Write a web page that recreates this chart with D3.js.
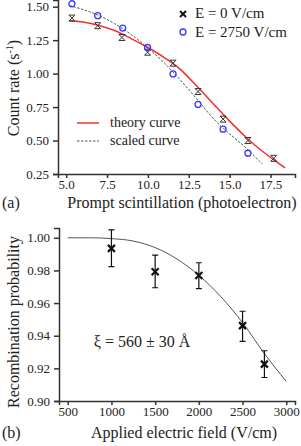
<!DOCTYPE html>
<html lang="en">
<head>
    <meta charset="UTF-8">
    <title>Count rate and recombination</title>
    <script src="https://cdn.jsdelivr.net/npm/d3@7"></script>
    <style>
        body{ margin:0; background:#fff; }
        svg{ display:block; }
        svg text{ font-family:"Liberation Serif","Times New Roman",serif; fill:#222; }
        .axis path, .axis line{ stroke:#333; stroke-width:1.5; }
        .axis text{ font-size:13px; }
    </style>
</head>
<body>
<svg width="301" height="446"></svg>
<script>
    // panel (a) data
    var xZero = [5.35, 6.93, 8.41, 9.98, 11.54, 13.07, 14.6, 16.12, 17.7];
    var yZero = [1.415, 1.358, 1.27, 1.16, 1.078, 0.866, 0.66, 0.50, 0.367];
    var xField = [5.35, 6.93, 8.46, 9.98, 11.54, 13.07, 14.6, 16.12];
    var yField = [1.522, 1.433, 1.34, 1.195, 0.998, 0.77, 0.585, 0.405];
    var theoryX = [5.2, 6, 7, 8, 9, 10, 11, 12, 13, 14, 15, 16, 17, 18, 18.4];
    var theoryY = [1.397, 1.385, 1.36, 1.32, 1.26, 1.195, 1.12, 1.03, 0.905, 0.775, 0.645, 0.525, 0.42, 0.33, 0.295];
    var scaledX = [5.2, 6, 7, 8, 9, 10, 11, 12, 13, 14, 15, 16, 16.5, 17];
    var scaledY = [1.508, 1.48, 1.435, 1.37, 1.29, 1.19, 1.08, 0.95, 0.81, 0.665, 0.55, 0.445, 0.385, 0.325];
    var ticksA_x = [5.0, 7.5, 10.0, 12.5, 15.0, 17.5];
    var ticksA_y = [0.25, 0.50, 0.75, 1.00, 1.25, 1.50];

    // panel (b) data
    var fieldB = [1000, 1500, 2000, 2500, 2750];
    var probB = [0.9935, 0.9792, 0.9769, 0.9462, 0.9226];
    var probHi = [1.0048, 0.9894, 0.9847, 0.9550, 0.9308];
    var probLo = [0.9823, 0.9694, 0.9689, 0.9365, 0.9144];
    var curveBx = [500, 750, 1000, 1250, 1500, 1750, 2000, 2250, 2500, 2750, 3000];
    var curveBy = [1.000, 1.000, 0.9995, 0.998, 0.994, 0.987, 0.977, 0.964, 0.948, 0.929, 0.912];
    var ticksB_x = [500, 1000, 1500, 2000, 2500, 3000];
    var ticksB_y = [0.90, 0.92, 0.94, 0.96, 0.98, 1.00];

    var svg = d3.select("svg");
    var line = d3.line().curve(d3.curveMonotoneX);

    // ---------- panel (a)
    var xa = d3.scaleLinear().domain([4.5, 19]).range([58, 295]);
    var ya = d3.scaleLinear().domain([0.25, 1.55]).range([174, 0]);

    var ga = svg.append("g");

    ga.append("g").attr("class", "axis")
        .attr("transform", "translate(0,174)")
        .call(d3.axisBottom(xa).tickValues(ticksA_x).tickFormat(d3.format(".1f")).tickSizeOuter(0).tickSize(4))
        .attr("font-family", null)
        .selectAll("text").attr("y", 6).attr("dy", "0.71em");
    ga.append("g").attr("class", "axis")
        .attr("transform", "translate(58,0)")
        .call(d3.axisLeft(ya).tickValues(ticksA_y).tickFormat(d3.format(".2f")).tickSizeOuter(0).tickSize(5))
        .attr("font-family", null)
        .selectAll("text").attr("dx", "-1px");

    ga.append("path")
        .attr("d", line(theoryX.map(function (d, i) { return [xa(d), ya(theoryY[i])]; })))
        .attr("fill", "none").attr("stroke", "#f03030").attr("stroke-width", 1.5);
    ga.append("path")
        .attr("d", line(scaledX.map(function (d, i) { return [xa(d), ya(scaledY[i])]; })))
        .attr("fill", "none").attr("stroke", "#444").attr("stroke-width", 0.9)
        .attr("stroke-dasharray", "2.5,1.5");

    // hourglass-like cross markers
    function crossCap(g, x, y, s) {
        g.append("path")
            .attr("d", "M" + (x - s) + "," + (y - s) + "L" + (x + s) + "," + (y + s) +
                "M" + (x + s) + "," + (y - s) + "L" + (x - s) + "," + (y + s) +
                "M" + (x - s) + "," + (y - s) + "L" + (x + s) + "," + (y - s) +
                "M" + (x - s) + "," + (y + s) + "L" + (x + s) + "," + (y + s))
            .attr("fill", "none").attr("stroke", "#333").attr("stroke-width", 1);
    }
    xZero.forEach(function (d, i) { crossCap(ga, xa(d), ya(yZero[i]), 3); });

    ga.selectAll(".circ").data(xField).enter().append("circle")
        .attr("class", "circ")
        .attr("cx", function (d) { return xa(d); })
        .attr("cy", function (d, i) { return ya(yField[i]); })
        .attr("r", 3)
        .attr("fill", "none").attr("stroke", "#3a3aff").attr("stroke-width", 1.3);

    // legend top
    ga.append("path").attr("d", "M180,11L186,17M186,11L180,17")
        .attr("stroke", "#111").attr("stroke-width", 2);
    ga.append("text").attr("x", 195).attr("y", 18).attr("font-size", 15).text("E = 0 V/cm");
    ga.append("circle").attr("cx", 183).attr("cy", 32).attr("r", 3)
        .attr("fill", "none").attr("stroke", "#3a3aff").attr("stroke-width", 1.3);
    ga.append("text").attr("x", 195).attr("y", 37).attr("font-size", 15).text("E = 2750 V/cm");

    // legend lines
    ga.append("line").attr("x1", 77).attr("x2", 99).attr("y1", 123).attr("y2", 123)
        .attr("stroke", "#f03030").attr("stroke-width", 1.5);
    ga.append("text").attr("x", 110).attr("y", 127).attr("font-size", 14).text("theory curve");
    ga.append("line").attr("x1", 77).attr("x2", 99).attr("y1", 141).attr("y2", 141)
        .attr("stroke", "#444").attr("stroke-width", 0.9).attr("stroke-dasharray", "2.5,1.5");
    ga.append("text").attr("x", 110).attr("y", 145).attr("font-size", 14).text("scaled curve");

    ga.append("text").attr("transform", "translate(19,88) rotate(-90)")
        .attr("text-anchor", "middle").attr("font-size", 16)
        .html("Count rate (s<tspan dy='-6' font-size='10'>-1</tspan><tspan dy='6'>)</tspan>");
    ga.append("text").attr("x", 182).attr("y", 208).attr("text-anchor", "middle")
        .attr("font-size", 16).text("Prompt scintillation (photoelectron)");
    ga.append("text").attr("x", 2).attr("y", 208).attr("font-size", 16).text("(a)");

    // ---------- panel (b)
    var xb = d3.scaleLinear().domain([400, 3100]).range([59, 295]);
    var yb = d3.scaleLinear().domain([0.9, 1.006]).range([401, 228]);

    var gb = svg.append("g");
    gb.append("g").attr("class", "axis")
        .attr("transform", "translate(0,401)")
        .call(d3.axisBottom(xb).tickValues(ticksB_x).tickFormat(d3.format("d")).tickSizeOuter(0).tickSize(4))
        .attr("font-family", null)
        .selectAll("text").attr("y", 6).attr("dy", "0.71em");
    gb.append("g").attr("class", "axis")
        .attr("transform", "translate(59,0)")
        .call(d3.axisLeft(yb).tickValues(ticksB_y).tickFormat(d3.format(".2f")).tickSizeOuter(0).tickSize(5))
        .attr("font-family", null)
        .selectAll("text").attr("dx", "-1px");

    gb.append("path")
        .attr("d", line(curveBx.map(function (d, i) { return [xb(d), yb(curveBy[i])]; })))
        .attr("fill", "none").attr("stroke", "#555").attr("stroke-width", 1);

    fieldB.forEach(function (d, i) {
        var x = xb(d), y = yb(probB[i]), t = yb(probHi[i]), b = yb(probLo[i]);
        gb.append("path")
            .attr("d", "M" + x + "," + t + "V" + b + "M" + (x - 3) + "," + t + "H" + (x + 3) +
                "M" + (x - 3) + "," + b + "H" + (x + 3))
            .attr("fill", "none").attr("stroke", "#111").attr("stroke-width", 1.2);
        gb.append("path")
            .attr("d", "M" + (x - 3.5) + "," + (y - 3.5) + "L" + (x + 3.5) + "," + (y + 3.5) +
                "M" + (x + 3.5) + "," + (y - 3.5) + "L" + (x - 3.5) + "," + (y + 3.5))
            .attr("fill", "none").attr("stroke", "#111").attr("stroke-width", 2.2);
    });

    gb.append("text").attr("x", 142).attr("y", 347).attr("text-anchor", "middle")
        .attr("font-size", 16).text("\u03BE = 560 \u00B1 30 \u00C5");

    gb.append("text").attr("transform", "translate(19,322) rotate(-90)")
        .attr("text-anchor", "middle").attr("font-size", 16).text("Recombination probability");
    gb.append("text").attr("x", 184).attr("y", 438).attr("text-anchor", "middle")
        .attr("font-size", 16).text("Applied electric field (V/cm)");
    gb.append("text").attr("x", 2).attr("y", 438).attr("font-size", 16).text("(b)");
</script>
</body>
</html>
